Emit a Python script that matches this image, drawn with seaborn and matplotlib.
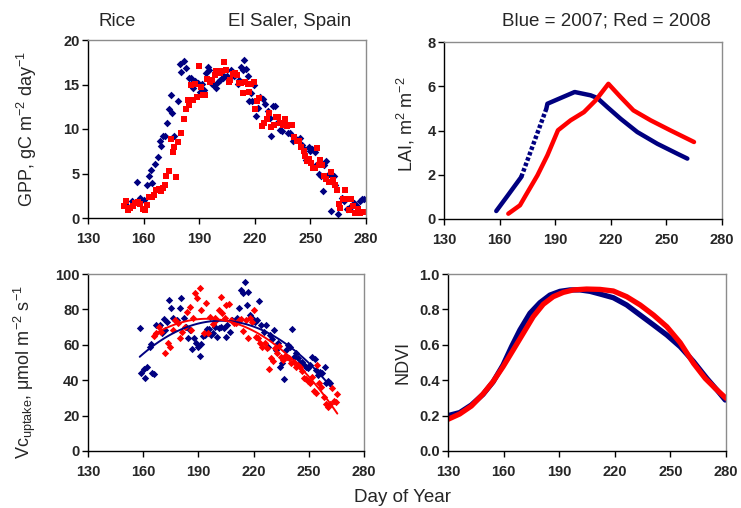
import numpy as np
import pandas as pd
import matplotlib
matplotlib.use("Agg")
import matplotlib.pyplot as plt
import seaborn as sns

sns.set_style("ticks")
plt.rcParams['font.family'] = ['Liberation Sans', 'DejaVu Sans']
plt.rcParams['mathtext.fontset'] = 'custom'
plt.rcParams['mathtext.rm'] = 'Liberation Sans'
plt.rcParams['mathtext.it'] = 'Liberation Sans:italic'
plt.rcParams['mathtext.bf'] = 'Liberation Sans:bold'
plt.rcParams['mathtext.default'] = 'regular'

BLUE = '#000080'
RED = '#FF0000'

# ---------------- GPP ----------------
gpp_day_07 = [151, 153.7, 156.4, 158.2, 160, 161.8, 163, 164, 164.5, 166.3, 167.6, 168.7, 169.6, 170.5,
              171.4, 172.4, 173.5, 174.8, 175.5, 176.6, 178.6, 179.5, 180.4, 181.6, 183, 184.3, 185.6,
              186.7, 188, 189.2, 190.6, 191.5, 192.8, 193.7, 194.7, 195.5, 196.9, 198, 199.2, 200,
              201.4, 202.7, 203.6, 205, 206.1, 207.2, 208.6, 209.5, 210.8, 211.5, 212.6, 213.5, 214.4,
              215.3, 216.2, 217.1, 218, 218.5, 219.8, 220.4, 221.5, 222.8, 224.4, 225.5, 226.9, 228,
              228.7, 229.8, 230.7, 232.3, 233.4, 234.6, 236.5, 237.7, 239.2, 240.4, 241.8, 243.1, 244.5,
              245.5, 246.7, 247.8, 249, 250, 250.8, 252.3, 253.2, 254.5, 255.7, 256.6, 257.5, 258.6,
              259.8, 261.1, 262.5, 263.4, 264.9, 267, 267.9, 269.7, 271.2, 272.4, 273.7, 274.8, 276.6,
              277.8, 279.1]
gpp_07 = [1.3, 1.9, 4.0, 2.2, 2.05, 3.7, 4.7, 5.4, 3.9, 6.1, 6.9, 8.7, 8.1, 9.2,
          9.2, 10.7, 12.2, 13.8, 11.8, 9.2, 13.1, 17.3, 16.4, 17.6, 16.9, 15.7, 15.7,
          14.6, 15.4, 15.2, 14.2, 15.1, 14.4, 16.3, 17.0, 16.6, 15.1, 14.95, 14.6, 15.3,
          15.5, 15.7, 15.9, 15.9, 15.5, 16.6, 15.9, 16.1, 15.1, 15.5, 17.0, 16.6, 17.7,
          16.7, 16.0, 13.1, 14.1, 13.1, 15.0, 11.5, 12.4, 13.6, 13.4, 12.8, 12.0, 11.2,
          9.2, 12.6, 12.6, 10.8, 9.9, 9.8, 10.5, 9.5, 9.5, 8.6, 9.0, 8.8, 9.0,
          8.2, 7.8, 6.5, 8.0, 7.5, 7.7, 7.4, 6.0, 5.0, 4.7, 3.0, 5.9, 6.4,
          5.0, 0.8, 4.7, 3.7, 0.4, 2.2, 1.9, 1.0, 1.2, 1.3, 1.7, 1.5, 1.9,
          2.1, 2.1]

gpp_day_08 = [149.6, 150.7, 151.6, 152.8, 154.3, 155.5, 156.8, 158.2, 159.7, 160.9, 161.8, 163, 164.5,
              165.8, 166.9, 168.1, 169.2, 170.3, 171.5, 172.3, 173.5, 174.8, 175.7, 176.6, 177.5, 178.6,
              180.2, 181.6, 182.9, 184, 184.7, 185.6, 186.8, 188, 188.9, 190.1, 191, 192, 193.3, 194.2,
              195.6, 196.9, 198.3, 199.2, 200.5, 201.4, 202.3, 203.6, 204.6, 205.9, 206.8, 208.1, 209.1,
              210.4, 211.6, 212.7, 213.8, 214.9, 216.2, 217.1, 218.2, 219.4, 220.1, 221.3, 222.4, 223.7,
              225.1, 226.4, 227.5, 228.7, 230.2, 231.4, 232.5, 233.8, 235, 236.1, 237.4, 238.6, 240,
              241.3, 242.7, 243.6, 244.9, 246.3, 247.2, 248.2, 249.4, 250.3, 251.4, 252.6, 253.5, 254.5,
              255.3, 256.2, 257.5, 258.6, 259.8, 261.1, 262.2, 263.1, 264.4, 265.3, 266.2, 267.4, 268.5,
              269.7, 270.6, 271.9, 273, 274.2, 275.5, 276.6, 277.8, 279.1]
gpp_08 = [1.4, 1.9, 0.9, 1.1, 1.4, 1.7, 1.8, 1.6, 1.0, 0.9, 1.5, 2.4, 2.4,
          2.6, 3.1, 3.3, 3.0, 3.4, 3.7, 4.7, 5.3, 8.9, 7.4, 8.0, 4.6, 8.5,
          9.5, 11.1, 12.2, 13.3, 12.7, 15.0, 13.3, 15.1, 13.6, 17.1, 14.7, 13.8, 13.8, 15.6,
          15.3, 15.5, 16.1, 16.5, 16.4, 16.3, 16.5, 17.5, 16.6, 15.3, 15.5, 16.2, 16.3,
          16.1, 15.2, 15.2, 14.1, 15.3, 15.1, 14.2, 15.1, 15.3, 12.3, 13.2, 13.5, 10.3,
          10.7, 11.1, 11.8, 10.2, 10.5, 11.4, 11.3, 10.7, 10.4, 11.1, 10.3, 10.5, 10.5,
          9.1, 8.6, 8.7, 8.0, 7.5, 7.0, 6.4, 6.6, 6.2, 5.6, 5.6, 7.9, 5.9,
          6.5, 5.9, 4.7, 4.4, 4.0, 5.2, 4.3, 3.7, 3.2, 1.6, 1.1, 2.1, 3.2,
          2.1, 0.9, 2.1, 1.4, 0.6, 1.0, 0.6, 0.7, 0.7]

# ---------------- LAI ----------------
lai_day_07 = [158.2, 164.2, 171.7, 185.2, 185.8, 193, 200.5, 209.1, 212.7, 218.1, 225.3, 234.3, 245.1, 255.9, 261.3]
lai_07 = [0.36, 1.04, 1.9, 4.98, 5.21, 5.47, 5.74, 5.59, 5.47, 5.06, 4.53, 3.93, 3.4, 2.95, 2.73]
lai_day_08 = [164.7, 171, 174.1, 180.4, 185.8, 191.5, 198.3, 205.5, 211.8, 218.7, 225.3, 232.2, 241.5, 252.3, 264.9]
lai_08 = [0.24, 0.62, 1.07, 1.97, 2.88, 4.01, 4.46, 4.83, 5.36, 6.11, 5.51, 4.91, 4.46, 4.0, 3.48]

# ---------------- Vc uptake ----------------
vc_day_07 = [158.1, 159, 160.3, 161.2, 162.1, 163.5, 164.4, 164.9, 165.7, 166.8, 168.9, 170.2, 171.1, 172,
             173.1, 174, 175.3, 176, 177.5, 178.6, 179.8, 180.7, 182, 183.1, 184.3, 185.3, 186.5, 187.6,
             188.5, 189.6, 190.7, 191.6, 192.5, 193.6, 194.7, 195.8, 196.8, 197.9, 199.2, 200.1, 201.2,
             202.4, 203.7, 204.8, 205.7, 207, 208.3, 209.7, 211, 211.9, 213.3, 214.2, 215.5, 216.4, 216.9,
             218.2, 219.3, 220.6, 221.8, 222.9, 224.2, 225.5, 226.9, 228, 229.1, 230.2, 231.1, 232.4,
             233.4, 234.5, 235.6, 236.5, 237.8, 238.7, 239.6, 240.9, 241.8, 242.9, 244.1, 245, 246.3,
             247.2, 248.3, 249.6, 250.8, 251.9, 253.2, 254.1, 255, 256.3, 257.4, 258.6, 259.5, 260.6, 261.7]
vc_07 = [69.3, 44.3, 46.1, 41.1, 47.6, 58.9, 60.3, 44.3, 43.3, 71.2, 71.2, 66.5, 74.6, 68.4,
         73.1, 85.3, 80.6, 75, 74, 74, 80.6, 86.2, 75, 70.2, 63.7, 68.4, 57.6, 63.7,
         61.2, 58.9, 53.7, 60.5, 65, 65.5, 68.7, 68.9, 65.5, 66.9, 69.9, 64.6, 69.3,
         69.9, 69.3, 64.2, 71.2, 67.4, 74, 73.1, 75, 80.6, 91, 89.1, 95.7, 82.5, 90,
         76.8, 75, 73.1, 74, 84.9, 71.2, 67.4, 71.2, 58.9, 65.5, 63.1, 68.4, 57.1,
         60.8, 47.6, 49.5, 40.5, 57.1, 59.9, 58.9, 68.7, 53.3, 55.2, 52.4, 49.5, 50.5,
         48.6, 47.6, 46.7, 48.6, 52.9, 51.8, 45.8, 42.9, 44.8, 44.3, 47.6, 38.6, 39.5, 38.2]

vc_day_08 = [165.7, 167.1, 168.6, 169.9, 172, 173.5, 174.4, 176.2, 177.5, 179, 180.2, 181.3, 182.5, 184,
             185.3, 186.1, 187.1, 188, 189.2, 190.7, 191.6, 192.9, 194, 195.2, 196.5, 197.9, 198.8,
             199.7, 201, 202.1, 203, 204.3, 205.2, 206.6, 207.9, 209.3, 210.6, 212, 213.3, 214.4,
             215.7, 216.9, 218.2, 219.3, 220.2, 221.1, 222.4, 223.6, 224.7, 226, 227.3, 228.4, 229.5,
             230.6, 231.4, 232.7, 233.8, 234.9, 236, 237.1, 238.2, 239.3, 240.5, 241.8, 242.9, 244.1,
             245, 246.3, 247.2, 248.3, 249.6, 250.5, 251.6, 252.7, 253.8, 254.5, 255.6, 256.8, 258.1,
             259.2, 260.3, 261.4, 262.4, 263.5, 264.6, 265.5]
vc_08 = [65, 66.5, 69.9, 67.4, 55.6, 61.2, 58.9, 68.4, 74, 72.5, 63.7, 67.4, 70.2, 78.7,
         81.2, 68.4, 75, 89.1, 86.2, 91.9, 79.7, 66.9, 83.8, 66.9, 75.9, 71.8, 75,
         74, 79.7, 86.8, 78.2, 75, 82.5, 83, 74, 72.1, 72.5, 74, 74.4, 68,
         74, 63.7, 75, 73.1, 79.7, 64.2, 63.7, 61.2, 58.9, 60.8, 58, 46.1, 52.4,
         51, 58, 55.2, 59.3, 52.9, 51.4, 53.7, 52.9, 52.4, 49.5, 50.5, 47.6, 48.6,
         47.3, 45.4, 41.1, 40.5, 39.7, 38.2, 42, 34.1, 32.6, 48.6, 38.6, 36.3, 30.7,
         26.6, 24.7, 26.6, 35.4, 28.4, 27.9, 32.2]

# ---------------- NDVI ----------------
ndvi_day_07 = [130, 136.3, 142.6, 148.9, 154.3, 159.7, 164.3, 168.8, 174.2, 179.6, 185, 190.4, 195.8,
               201.2, 206.6, 212, 219.2, 226.4, 233.7, 240.9, 248.1, 255.3, 262.5, 269.7, 275.1, 279.6]
ndvi_07 = [0.20, 0.217, 0.26, 0.32, 0.39, 0.486, 0.59, 0.684, 0.778, 0.838, 0.881, 0.902, 0.91,
           0.91, 0.902, 0.887, 0.866, 0.825, 0.768, 0.712, 0.655, 0.589, 0.505, 0.41, 0.345, 0.288]
ndvi_day_08 = [130, 136.3, 142.6, 148.9, 154.3, 159.7, 165.2, 170.6, 176, 181.4, 186.8, 192.2, 197.6,
               204.8, 212, 219.2, 226.4, 233.7, 240.9, 248.1, 255.3, 262.5, 268.8, 274.2, 280]
ndvi_08 = [0.179, 0.209, 0.254, 0.322, 0.392, 0.476, 0.571, 0.665, 0.759, 0.829, 0.872, 0.896, 0.91,
           0.915, 0.913, 0.904, 0.872, 0.825, 0.768, 0.702, 0.612, 0.495, 0.41, 0.354, 0.298]

x_ticks = [130, 160, 190, 220, 250, 280]
gpp_ticks = [0, 5, 10, 15, 20]
lai_ticks = [0, 2, 4, 6, 8]
vc_ticks = [0, 20, 40, 60, 80, 100]
ndvi_ticks = [0.0, 0.2, 0.4, 0.6, 0.8, 1.0]

fig = plt.figure(figsize=(7.41, 5.08), dpi=100)
W, H = 741, 508


def add_ax(l, t, r, b):
    return fig.add_axes([l / W, 1 - b / H, (r - l) / W, (b - t) / H])


ax_gpp = add_ax(88, 40, 366, 218)
ax_lai = add_ax(444, 42, 722, 219)
ax_vc = add_ax(88, 274, 364, 451)
ax_ndvi = add_ax(448, 274, 726, 451)

# GPP
sns.scatterplot(x=gpp_day_07, y=gpp_07, ax=ax_gpp, color=BLUE, marker='D', s=15, linewidth=0)
sns.scatterplot(x=gpp_day_08, y=gpp_08, ax=ax_gpp, color=RED, marker='s', s=20, linewidth=0)

# LAI
lai07 = pd.DataFrame({'d': lai_day_07, 'v': lai_07})
lai08 = pd.DataFrame({'d': lai_day_08, 'v': lai_08})
sns.lineplot(data=lai07.iloc[:3], x='d', y='v', ax=ax_lai, color=BLUE, lw=3.2, estimator=None)
sns.lineplot(data=lai07.iloc[2:4], x='d', y='v', ax=ax_lai, color=BLUE, lw=3.2, estimator=None,
             linestyle=(0, (0.8, 0.5)))
sns.lineplot(data=lai07.iloc[3:], x='d', y='v', ax=ax_lai, color=BLUE, lw=3.2, estimator=None)
sns.lineplot(data=lai08, x='d', y='v', ax=ax_lai, color=RED, lw=3.2, estimator=None)

# Vc
sns.scatterplot(x=vc_day_07, y=vc_07, ax=ax_vc, color=BLUE, marker='D', s=14, linewidth=0)
sns.scatterplot(x=vc_day_08, y=vc_08, ax=ax_vc, color=RED, marker='D', s=14, linewidth=0)
sns.regplot(x=np.array(vc_day_07), y=np.array(vc_07), ax=ax_vc, order=2, ci=None, scatter=False,
            color=BLUE, line_kws={'lw': 1.4})
sns.regplot(x=np.array(vc_day_08), y=np.array(vc_08), ax=ax_vc, order=2, ci=None, scatter=False,
            color=RED, line_kws={'lw': 1.4})

# NDVI
sns.lineplot(x=ndvi_day_07, y=ndvi_07, ax=ax_ndvi, color=BLUE, lw=3.8, estimator=None)
sns.lineplot(x=ndvi_day_08, y=ndvi_08, ax=ax_ndvi, color=RED, lw=3.8, estimator=None)

tick_fs = 10.5
for ax, yt, ylim, fmt in ((ax_gpp, gpp_ticks, (0, 20), '{:g}'), (ax_lai, lai_ticks, (0, 8), '{:g}'),
                          (ax_vc, vc_ticks, (0, 100), '{:g}'), (ax_ndvi, ndvi_ticks, (0, 1.0), '{:.1f}')):
    ax.set_xlim(130, 280)
    ax.set_ylim(*ylim)
    ax.set_xticks(x_ticks, labels=[str(t) for t in x_ticks], fontweight='bold', fontsize=tick_fs)
    ax.set_yticks(yt, labels=[fmt.format(t) for t in yt], fontweight='bold', fontsize=tick_fs)
    ax.set_xlabel('')
    ax.tick_params(axis='both', direction='out', length=4, width=1, color='black')
    ax.tick_params(axis='x', pad=6)
    ax.tick_params(axis='y', pad=2)
    ax.spines['left'].set_color('black')
    ax.spines['bottom'].set_color('black')
    ax.spines['top'].set_color('#8c8c8c')
    ax.spines['right'].set_color('#8c8c8c')
    for s in ax.spines.values():
        s.set_linewidth(1)
        s.set_visible(True)
    ax.grid(False)

lab_fs = 13.5
ax_gpp.set_ylabel('GPP, gC m$^{-2}$ day$^{-1}$', fontsize=13)
ax_lai.set_ylabel('LAI, m$^{2}$ m$^{-2}$', fontsize=13)
ax_vc.set_ylabel('Vc$_{uptake}$, \u03bcmol m$^{-2}$ s$^{-1}$', fontsize=13)
ax_ndvi.set_ylabel('NDVI', fontsize=13)
for ax, xc, yc in ((ax_gpp, 27, 129), (ax_lai, 406, 124), (ax_vc, 25, 372), (ax_ndvi, 403, 362)):
    pos = ax.get_position()
    l = pos.x0 * W
    w = pos.width * W
    t = (1 - pos.y1) * H
    h = pos.height * H
    ax.yaxis.label.set_verticalalignment('center')
    ax.yaxis.set_label_coords((xc - l) / w, 1 - (yc - t) / h)

fig.text(117 / W, 1 - 21 / H, 'Rice', fontsize=lab_fs, ha='center', va='center')
fig.text(290 / W, 1 - 21 / H, 'El Saler, Spain', fontsize=lab_fs, ha='center', va='center')
fig.text(606 / W, 1 - 21 / H, 'Blue = 2007; Red = 2008', fontsize=lab_fs, ha='center', va='center')
fig.text(402 / W, 1 - 498 / H, 'Day of Year', fontsize=lab_fs, ha='center', va='center')

fig.savefig('out.png', dpi=100)
